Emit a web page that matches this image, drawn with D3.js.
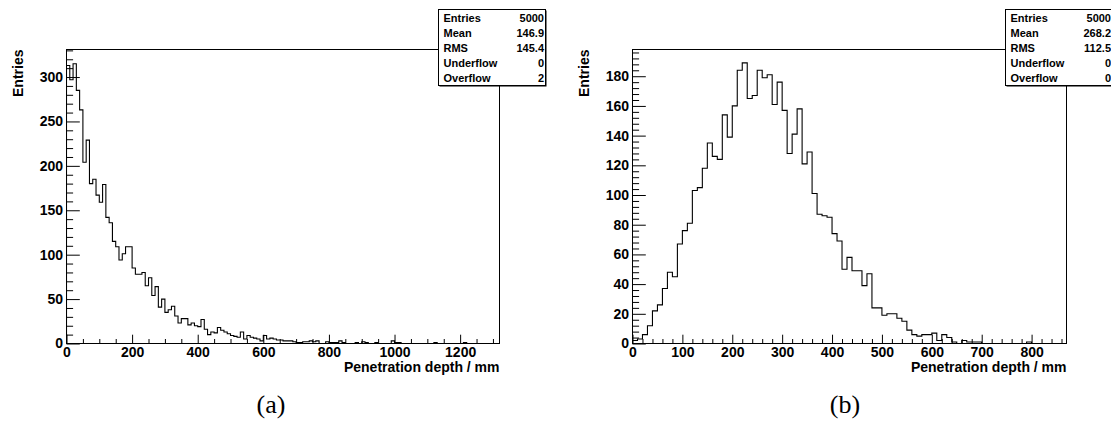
<!DOCTYPE html>
<html>
<head>
<meta charset="utf-8">
<script src="https://cdn.jsdelivr.net/npm/d3@7"></script>
<style>
  body { margin: 0; background: #fff; }
  svg { display: block; }
  text { font-family: "Liberation Sans", Arial, Helvetica, sans-serif; font-weight: bold; fill: #000; }
  .caption { font-family: "Liberation Serif", "DejaVu Serif", serif; font-weight: normal; }
</style>
</head>
<body>
<svg id="chart" width="1111" height="432"></svg>
<script>
// ---- data -------------------------------------------------------------
const binWidth = 10; // mm per bin in both histograms

// (a) penetration depth, counts per 10 mm bin starting at 0
const countsA = [
  313, 297, 315, 285, 263, 204, 229, 180, 185, 167,
  159, 179, 142, 136, 115, 109,  94, 101, 109, 109,
   85,  78,  78,  80,  65,  74,  54,  64,  41,  50,
   35,  38,  42,  31,  23,  28,  28,  21,  23,  20,
   19,  27,  16,  10,  13,  12,  18,  15,  13,  11,
    9,   8,   7,  13,   5,   9,   7,   6,   5,   3,
    9,   5,   6,   5,   4,   4,   3,   3,   3,   2,
    1,   1,   2,   2,   3,   2,   3,   0,   0,   2,
    1,   1,   1,   3,   1,   0,   0,   0,   1,   0,
    2,   1,   0,   0,   1,   0,   0,   0,   0,   3,
    1,   1,   0,   0,   0,   0,   0,   0,   0,   0,
    0,   0,   1,   0,   0,   0,   0,   0,   0,   0,
    0,   1,   0,   0,   0,   0,   0,   0,   0,   0,
    0,   0
];

// (b) penetration depth, counts per 10 mm bin starting at 0
const countsB = [
    2,   3,   6,  12,  22,  26,  37,  48,  45,  67,
   76,  81, 103, 105, 118, 135, 126, 124, 154, 139,
  160, 184, 189, 165, 167, 184, 179, 181, 161, 176,
  157, 128, 141, 158, 121, 129, 101,  87,  86,  85,
   74,  69,  50,  58,  49,  49,  39,  47,  24,  24,
   19,  20,  20,  17,  15,   9,   6,   5,   6,   6,
    7,   2,   6,   4,   1,   0,   2,   1,   1,   1,
    0,   0,   0,   0,   0,   0,   0,   0,   0,   1,
    0,   0,   0,   0,   0,   0,   0
];

const statLabels = ["Entries", "Mean", "RMS", "Underflow", "Overflow"];
const statValuesA = ["5000", "146.9", "145.4", "0", "2"];
const statValuesB = ["5000", "268.2", "112.5", "0", "0"];

const xTicksA = [0, 200, 400, 600, 800, 1000, 1200];
const yTicksA = [0, 50, 100, 150, 200, 250, 300];
const xTicksB = [0, 100, 200, 300, 400, 500, 600, 700, 800];
const yTicksB = [0, 20, 40, 60, 80, 100, 120, 140, 160, 180];

const xTitle = "Penetration depth / mm";
const yTitle = "Entries";
const captions = ["(a)", "(b)"];

// ---- layout -----------------------------------------------------------
const svg = d3.select("#chart");
svg.append("rect").attr("width", 1111).attr("height", 432).attr("fill", "#fff");

const panels = [
  {
    counts: countsA, stats: statValuesA, xTicks: xTicksA, yTicks: yTicksA,
    xMax: 1320, yMax: 331, xMinorStep: 50, yMinorStep: 10,
    left: 66.5, right: 499.5, caption: captions[0], captionX: 271, id: "a"
  },
  {
    counts: countsB, stats: statValuesB, xTicks: xTicksB, yTicks: yTicksB,
    xMax: 870, yMax: 198, xMinorStep: 20, yMinorStep: 4,
    left: 632.5, right: 1066.5, caption: captions[1], captionX: 845, id: "b"
  }
];

const frameTop = 49.5, frameBottom = 343.5;
const xMajorLen = 8.8, xMinorLen = 4.5;
const yMajorLen = 13.3, yMinorLen = 6.6;

panels.forEach(p => {
  const g = svg.append("g");

  const x = d3.scaleLinear().domain([0, p.xMax]).range([p.left, p.right]);
  const y = d3.scaleLinear().domain([0, p.yMax]).range([frameBottom, frameTop]);

  // clip for the histogram outline
  const clipId = "clip-" + p.id;
  svg.append("clipPath").attr("id", clipId)
    .append("rect")
    .attr("x", p.left).attr("y", frameTop)
    .attr("width", p.right - p.left).attr("height", frameBottom - frameTop);

  // step outline of the histogram
  const pts = [[x(0), y(0)]];
  p.counts.forEach((c, i) => {
    const x0 = x(i * binWidth), x1 = x((i + 1) * binWidth);
    pts.push([x0, y(c)], [x1, y(c)]);
  });
  pts.push([x(p.counts.length * binWidth), y(0)]);
  g.append("path")
    .attr("clip-path", `url(#${clipId})`)
    .attr("d", d3.line()(pts))
    .attr("fill", "none")
    .attr("stroke", "#000")
    .attr("stroke-width", 1.1);

  // minor ticks
  const xMinor = d3.range(0, p.xMax + 0.001, p.xMinorStep).filter(v => !p.xTicks.includes(v));
  const yMinor = d3.range(0, p.yMax + 0.001, p.yMinorStep).filter(v => !p.yTicks.includes(v));

  g.append("g")
    .attr("transform", `translate(0,${frameBottom})`)
    .call(d3.axisBottom(x).tickValues(xMinor).tickSizeInner(-xMinorLen).tickSizeOuter(0).tickFormat(""))
    .call(a => a.select(".domain").remove());
  g.append("g")
    .attr("transform", `translate(${p.left},0)`)
    .call(d3.axisLeft(y).tickValues(yMinor).tickSizeInner(-yMinorLen).tickSizeOuter(0).tickFormat(""))
    .call(a => a.select(".domain").remove());

  // major ticks with labels
  const xAxis = g.append("g")
    .attr("transform", `translate(0,${frameBottom})`)
    .call(d3.axisBottom(x).tickValues(p.xTicks).tickSizeInner(-xMajorLen).tickSizeOuter(0)
      .tickPadding(4).tickFormat(d3.format("d")));
  xAxis.select(".domain").remove();

  const yAxis = g.append("g")
    .attr("transform", `translate(${p.left},0)`)
    .call(d3.axisLeft(y).tickValues(p.yTicks).tickSizeInner(-yMajorLen).tickSizeOuter(0)
      .tickPadding(3.5).tickFormat(d3.format("d")));
  yAxis.select(".domain").remove();

  [xAxis, yAxis].forEach(a => {
    a.selectAll(".tick line").attr("stroke", "#000").attr("stroke-width", 1);
    a.selectAll("text")
      .attr("fill", "#000")
      .style("font-size", "14px")
      .style("font-weight", "bold")
      .style("font-family", "'Liberation Sans', Arial, sans-serif");
  });

  // frame
  g.append("rect")
    .attr("x", p.left).attr("y", frameTop)
    .attr("width", p.right - p.left).attr("height", frameBottom - frameTop)
    .attr("fill", "none").attr("stroke", "#000").attr("stroke-width", 1);

  // axis titles
  g.append("text")
    .attr("x", p.right).attr("y", 372)
    .attr("text-anchor", "end")
    .style("font-size", "14px")
    .text(xTitle);

  g.append("text")
    .attr("transform", `translate(${p.left - 43.5},${frameTop}) rotate(-90)`)
    .attr("text-anchor", "end")
    .style("font-size", "14px")
    .text(yTitle);

  // statistics box
  const bx0 = p.right - 61, bx1 = p.right + 46, by0 = 9.5, by1 = 85.5;
  g.append("rect")
    .attr("x", bx0 + 1).attr("y", by0 + 1)
    .attr("width", bx1 - bx0).attr("height", by1 - by0)
    .attr("fill", "#000");
  g.append("rect")
    .attr("x", bx0).attr("y", by0)
    .attr("width", bx1 - bx0).attr("height", by1 - by0)
    .attr("fill", "#fff").attr("stroke", "#000").attr("stroke-width", 1);

  statLabels.forEach((lab, i) => {
    const yy = 22.3 + i * 15;
    g.append("text")
      .attr("x", bx0 + 5).attr("y", yy)
      .style("font-size", "11px")
      .text(lab);
    g.append("text")
      .attr("x", bx1 - 1.5).attr("y", yy)
      .attr("text-anchor", "end")
      .style("font-size", "11px")
      .text(p.stats[i]);
  });

  // sub-figure caption
  svg.append("text")
    .attr("class", "caption")
    .attr("x", p.captionX).attr("y", 413)
    .attr("text-anchor", "middle")
    .style("font-size", "26px")
    .text(p.caption);
});
</script>
</body>
</html>
